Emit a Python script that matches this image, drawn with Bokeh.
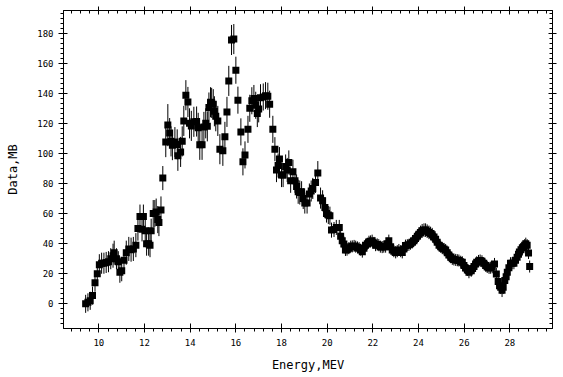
import numpy as np
from bokeh.plotting import figure
from bokeh.models import ColumnDataSource, LinearAxis, SingleIntervalTicker, Range1d
from bokeh.embed import file_html
from bokeh.resources import INLINE

energy = [
    9.42, 9.52, 9.62, 9.72, 9.83, 9.93, 10.02, 10.12, 10.22, 10.32,
    10.42, 10.52, 10.62, 10.67, 10.77, 10.85, 10.92, 11.00, 11.10, 11.20,
    11.31, 11.41, 11.51, 11.62, 11.71, 11.80, 11.89, 11.95, 12.03, 12.09,
    12.18, 12.24, 12.29, 12.38, 12.45, 12.51, 12.58, 12.63, 12.72, 12.80,
    12.93, 13.02, 13.10, 13.16, 13.22, 13.33, 13.43, 13.46, 13.58, 13.65,
    13.72, 13.81, 13.90, 13.97, 14.05, 14.16, 14.28, 14.35, 14.42, 14.52,
    14.60, 14.68, 14.75, 14.82, 14.89, 14.94, 15.01, 15.06, 15.12, 15.21,
    15.30, 15.43, 15.52, 15.61, 15.69, 15.81, 15.91, 16.00, 16.09, 16.22,
    16.31, 16.40, 16.53, 16.61, 16.70, 16.79, 16.87, 16.94, 17.00, 17.08,
    17.20, 17.30, 17.40, 17.48, 17.62, 17.71, 17.78, 17.85, 17.91, 18.00,
    18.07, 18.18, 18.25, 18.32, 18.40, 18.50, 18.59, 18.66, 18.73, 18.80,
    18.88, 18.95, 19.02, 19.12, 19.22, 19.30, 19.37, 19.49, 19.59, 19.71,
    19.80, 19.90, 19.97, 20.05, 20.12, 20.19, 20.30, 20.40, 20.53, 20.59,
    20.66, 20.73, 20.80, 20.87, 20.95, 21.03, 21.10, 21.18, 21.25, 21.33,
    21.40, 21.47, 21.54, 21.61, 21.68, 21.76, 21.83, 21.90, 21.97, 22.05,
    22.12, 22.19, 22.26, 22.33, 22.41, 22.48, 22.56, 22.63, 22.70, 22.78,
    22.85, 22.92, 23.00, 23.07, 23.14, 23.22, 23.29, 23.36, 23.43, 23.51,
    23.58, 23.65, 23.73, 23.80, 23.87, 23.95, 24.02, 24.09, 24.16, 24.24,
    24.31, 24.38, 24.46, 24.53, 24.60, 24.68, 24.75, 24.82, 24.90, 24.97,
    25.04, 25.12, 25.19, 25.26, 25.33, 25.41, 25.48, 25.55, 25.63, 25.70,
    25.77, 25.85, 25.92, 25.99, 26.06, 26.14, 26.21, 26.31, 26.37, 26.43,
    26.50, 26.55, 26.63, 26.70, 26.78, 26.86, 26.94, 27.01, 27.09, 27.16,
    27.23, 27.33, 27.41, 27.49, 27.55, 27.60, 27.66, 27.71, 27.78, 27.84,
    27.89, 27.96, 28.03, 28.10, 28.18, 28.25, 28.32, 28.38, 28.42, 28.49,
    28.55, 28.60, 28.65, 28.70, 28.76, 28.82, 28.87,
]

data_mb = [
    0, 1, 2, 5.5, 14, 20, 26, 27, 27, 27.5,
    28, 30, 32, 34, 30, 28, 21, 22, 29, 34,
    36.5, 36, 36.5, 39, 50, 58, 49.5, 58, 48.5, 40,
    40, 39, 48.6, 60, 60, 61, 56, 54, 62.4, 83.6,
    107.5, 118.8, 113.5, 108, 105.5, 107.5, 106, 98.4, 101, 108,
    121.6, 138.7, 134.2, 120, 118.3, 121, 121.2, 117, 105.7, 105.7,
    117.6, 120, 118, 130.5, 134, 133.6, 132.7, 128, 124.7, 121.6,
    102.8, 101.7, 111, 127.6, 148.2, 175.4, 176, 155.3, 135.4, 114.3,
    94.4, 99, 116, 130, 135, 136.5, 132, 126.5, 129.6, 137,
    137.5, 138.4, 138, 132.7, 116, 102.8, 88.9, 92, 96.2, 85.6,
    85.6, 91.3, 89, 94, 81.8, 87.8, 81.8, 78, 74.5, 74,
    74.5, 70, 67, 67, 73, 75, 76.7, 80.7, 86.9, 70.3,
    68.5, 64, 60, 59, 58.6, 49, 49.4, 50.8, 50.8, 45,
    42, 39.8, 35.8, 36, 37, 38, 38.2, 38.5, 38, 37.5,
    37, 36, 34.7, 37, 39, 40, 41.3, 41.5, 42, 40.5,
    39, 39.5, 39, 38, 37.7, 38, 38, 40, 42, 38,
    35.8, 35, 34.2, 35, 35.8, 35, 34.2, 36.5, 38.7, 39,
    39.2, 40, 40.9, 42, 43.5, 45, 46.3, 47.5, 48.6, 49,
    49, 48.3, 47.5, 46.8, 46, 44.5, 43, 41, 39, 38,
    37, 36.5, 35.8, 34, 32.5, 31, 29.9, 29.5, 29.2, 29,
    28.8, 28, 27.6, 25.5, 23.9, 22.5, 21, 22, 23.5, 24.8,
    26.5, 27.6, 28.5, 28.8, 28.3, 27, 25.4, 24.5, 23.9, 24,
    24.3, 26.5, 19.9, 14.8, 12, 11, 9, 11, 15.5, 18,
    21, 24, 27, 27, 27, 29, 31, 33, 34.5, 36,
    37.2, 38, 39, 40, 39, 33.8, 24.8,
]

error = [
    6, 6, 6, 6, 6, 6, 7, 7, 7, 7,
    7, 7, 8, 8, 7, 7, 7, 7, 7, 8,
    8, 8, 8, 8, 8, 8, 8, 8, 8, 8,
    8, 8, 8, 9, 9, 9, 9, 9, 9, 8,
    10, 14, 10, 10, 10, 10, 10, 10, 10, 10,
    10, 10, 10, 10, 10, 10, 10, 10, 10, 10,
    10, 10, 10, 10, 10, 10, 10, 10, 10, 10,
    10, 10, 10, 10, 10, 10, 10, 9, 9, 9,
    9, 9, 9, 9, 9, 9, 9, 9, 9, 9,
    9, 9, 9, 9, 9, 8, 8, 8, 8, 8,
    8, 8, 8, 8, 8, 8, 8, 8, 8, 8,
    7, 7, 7, 7, 7, 7, 7, 7, 8, 7,
    7, 7, 6, 6, 6, 5, 5, 5, 5, 5,
    5, 5, 4, 4, 4, 4, 4, 4, 4, 4,
    4, 4, 4, 4, 4, 4, 4, 4, 4, 4,
    4, 4, 4, 4, 4, 4, 4, 4, 4, 4,
    4, 4, 4, 4, 4, 4, 4, 4, 4, 4,
    4, 4, 4, 4, 4.5, 4.5, 4.5, 4.5, 4.5, 4.5,
    4.5, 4.5, 4.5, 4.5, 4.5, 4.5, 4, 4, 4, 4,
    4, 4, 4, 4, 4, 4, 4, 4, 4, 4,
    4, 4, 4, 4, 4, 4, 4, 4, 4, 4,
    4, 4, 4, 4, 4, 4, 4, 4, 4, 4,
    4, 4, 4, 4, 4.5, 4.5, 4.5, 4.5, 4, 4,
    4, 4, 4, 4, 4, 4, 4, 4, 4, 4,
    4, 4, 4, 4, 4, 4, 4,
]

x_ticks_interval = 2
y_ticks_interval = 20

e = np.array(energy, dtype=float)
v = np.array(data_mb, dtype=float)
s = np.array(error, dtype=float)
src = ColumnDataSource(dict(x=e, y=v, lo=v - s, hi=v + s))

FONT = "DejaVu Sans Mono"

p = figure(width=563, height=377, output_backend="svg", toolbar_location=None,
           x_range=Range1d(8.45, 29.87), y_range=Range1d(-16.4, 195),
           min_border_left=63, min_border_right=11, min_border_top=10,
           min_border_bottom=49, background_fill_color="white",
           border_fill_color="white")
p.xgrid.visible = False
p.ygrid.visible = False
p.outline_line_color = "black"

p.segment(x0="x", y0="lo", x1="x", y1="hi", source=src, line_color="black", line_width=1)
p.scatter(x="x", y="y", source=src, marker="square", size=7,
          fill_color="black", line_color=None)


def style(ax, ticker_interval, minor, labels, tick_in, tick_out, mtick_in, mtick_out):
    ax.ticker = SingleIntervalTicker(interval=ticker_interval, num_minor_ticks=minor)
    ax.axis_line_color = "black"
    ax.major_tick_line_color = "black"
    ax.minor_tick_line_color = "black"
    ax.major_tick_in = tick_in
    ax.major_tick_out = tick_out
    ax.minor_tick_in = mtick_in
    ax.minor_tick_out = mtick_out
    ax.major_label_text_font = FONT
    ax.axis_label_text_font = FONT
    ax.axis_label_text_font_style = "normal"
    ax.axis_label_text_color = "black"
    if labels:
        ax.major_label_text_color = "black"
        ax.major_label_text_font_size = "9px"
        ax.axis_label_text_font_size = "12px"
    else:
        ax.major_label_text_color = None
        ax.major_label_text_font_size = "1px"
        ax.major_label_standoff = 0


xb = p.xaxis[0]
yl = p.yaxis[0]
style(xb, x_ticks_interval, 5, True, 5, 4, 0, 3)
style(yl, y_ticks_interval, 6, True, 4, 5, 0, 3)
xb.axis_label = "Energy,MEV"
xb.major_label_standoff = 6
xb.axis_label_standoff = 9
yl.axis_label = "Data,MB"
yl.major_label_standoff = 5
yl.axis_label_standoff = 14

xt = LinearAxis()
style(xt, x_ticks_interval, 5, False, 4, 4, 3, 0)
yr = LinearAxis()
style(yr, y_ticks_interval, 6, False, 4, 4, 3, 0)
p.add_layout(xt, "above")
p.add_layout(yr, "right")

open("out.html", "w").write(file_html(p, INLINE))
